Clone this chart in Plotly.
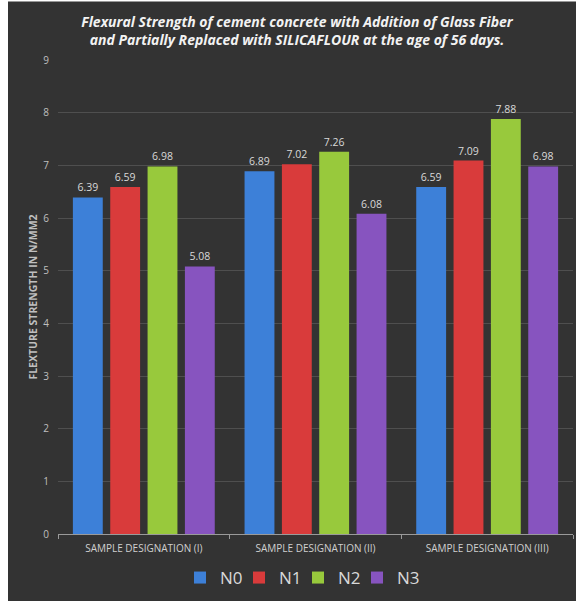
import plotly.graph_objects as go

categories = ["SAMPLE DESIGNATION (I)", "SAMPLE DESIGNATION (II)", "SAMPLE DESIGNATION (III)"]
series_names = ["N0", "N1", "N2", "N3"]
N0 = [6.39, 6.89, 6.59]
N1 = [6.59, 7.02, 7.09]
N2 = [6.98, 7.26, 7.88]
N3 = [5.08, 6.08, 6.98]
y_ticks = [0, 1, 2, 3, 4, 5, 6, 7, 8, 9]

colors = ["#3d80d8", "#d93b3b", "#98c93c", "#8754bf"]
entry_widths = [14, 14, 14, 26]

W, H = 576, 601
L, R, T, B = 58, 3, 60, 67
pw = W - L - R
ph = H - T - B

def px_x(p):
    return (p - L) / pw

def px_y(p):
    return (H - B - p) / ph

fig = go.Figure()
for name, vals, c, ew in zip(series_names, [N0, N1, N2, N3], colors, entry_widths):
    fig.add_trace(go.Bar(
        name=name, x=categories, y=vals,
        marker=dict(color=c, line=dict(width=0)),
        text=[f"{v:.2f}" for v in vals], textposition="outside",
        textfont=dict(color="#d9d9d9", size=10.5, family="Open Sans"),
        cliponaxis=False, legendwidth=ew,
    ))

fig.add_shape(type="rect", xref="paper", yref="paper",
              x0=px_x(8), x1=px_x(590), y0=px_y(610), y1=px_y(1.5),
              fillcolor="#333333", line=dict(width=0), layer="below")

fig.update_layout(
    width=W, height=H,
    margin=dict(l=L, r=R, t=T, b=B),
    paper_bgcolor="#ffffff",
    plot_bgcolor="rgba(0,0,0,0)",
    barmode="group", bargap=0.13, bargroupgap=0.2,
    title=dict(
        text="<b><i>Flexural Strength of cement concrete with Addition of Glass Fiber<br>and Partially Replaced with SILICAFLOUR at the age of 56 days.</i></b>",
        x=297 / W, xref="container", xanchor="center", y=1 - 27 / H, yanchor="middle",
        font=dict(family="Open Sans", size=14, color="#f2f2f2"),
    ),
    showlegend=True,
    legend=dict(orientation="h", x=px_x(304), xanchor="center", y=px_y(578), yanchor="middle",
                font=dict(family="Open Sans", size=17, color="#d9d9d9"),
                bgcolor="rgba(0,0,0,0)", itemwidth=30, traceorder="normal"),
    font=dict(family="Open Sans"),
)

fig.update_yaxes(
    range=[0, 9], tickvals=y_ticks,
    showgrid=True, gridcolor="#4f4f4f", gridwidth=1,
    zeroline=False, showline=False,
    tickfont=dict(size=10, color="#bfbfbf"),
    ticklabelstandoff=8,
    title=dict(text="<b>FLEXTURE STRENGTH IN N/MM2</b>", font=dict(size=10.5, color="#bfbfbf"), standoff=3),
)
fig.update_xaxes(
    showline=True, linecolor="#9a9a9a", linewidth=1,
    ticks="outside", tickson="boundaries", ticklen=4, tickcolor="#9a9a9a",
    tickfont=dict(size=10, color="#d0d0d0"),
    ticklabelstandoff=5,
    showgrid=False,
)

fig.write_html("out.html")
